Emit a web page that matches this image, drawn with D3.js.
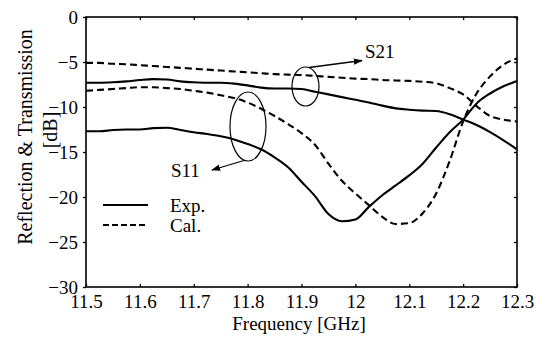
<!DOCTYPE html>
<html><head><meta charset="utf-8">
<script src="https://cdn.jsdelivr.net/npm/d3@7"></script>
<style>body{margin:0;background:#fff}svg{display:block}</style>
</head><body><svg id="c" width="535" height="337"></svg>
<script>
const freq = [11.5,11.525,11.55,11.575,11.6,11.625,11.65,11.675,11.7,11.725,11.75,11.775,11.8,11.825,11.85,11.875,11.9,11.925,11.95,11.975,12.0,12.025,12.05,12.075,12.1,12.125,12.15,12.175,12.2,12.225,12.25,12.275,12.3];
const expS21 = [-7.3,-7.3,-7.25,-7.15,-7.0,-6.9,-6.95,-7.15,-7.25,-7.3,-7.3,-7.4,-7.6,-7.85,-7.95,-7.95,-8.0,-8.3,-8.6,-8.9,-9.2,-9.5,-9.85,-10.15,-10.3,-10.4,-10.45,-10.8,-11.4,-12.0,-12.8,-13.7,-14.7];
const calS21 = [-5.1,-5.1,-5.2,-5.25,-5.35,-5.45,-5.55,-5.65,-5.75,-5.85,-5.95,-6.05,-6.15,-6.25,-6.35,-6.4,-6.45,-6.55,-6.65,-6.75,-6.85,-6.9,-7.0,-7.05,-7.1,-7.2,-7.35,-7.9,-8.6,-9.9,-11.0,-11.4,-11.6];
const expS11 = [-12.7,-12.7,-12.55,-12.5,-12.5,-12.35,-12.3,-12.55,-12.8,-13.0,-13.25,-13.6,-14.1,-14.7,-15.6,-16.7,-18.3,-19.9,-21.9,-22.7,-22.5,-21.1,-19.8,-18.7,-17.6,-16.3,-14.5,-12.8,-11.4,-9.6,-8.5,-7.7,-7.1];
const calS11 = [-8.2,-8.1,-8.0,-7.9,-7.8,-7.8,-7.9,-8.0,-8.2,-8.4,-8.7,-9.0,-9.5,-10.2,-11.0,-11.9,-12.9,-14.2,-16.3,-18.2,-19.6,-20.9,-22.2,-23.0,-22.9,-21.8,-19.6,-16.0,-11.6,-8.5,-6.6,-5.3,-4.6];
const xTicks = [11.5,11.6,11.7,11.8,11.9,12.0,12.1,12.2,12.3];
const xTickLabels = ["11.5","11.6","11.7","11.8","11.9","12","12.1","12.2","12.3"];
const yTicks = [0,-5,-10,-15,-20,-25,-30];
const legendLabels = ["Exp.","Cal."];

const FONT = "'Liberation Serif', Tinos, 'Times New Roman', Times, 'Nimbus Roman', 'DejaVu Serif', serif";
const svg = d3.select("#c");
const L=86,R=517,T=17,B=287;
const x = d3.scaleLinear().domain([11.5,12.3]).range([L,R]);
const y = d3.scaleLinear().domain([-30,0]).range([B,T]);

svg.append("rect").attr("x",L).attr("y",T).attr("width",R-L).attr("height",B-T)
  .attr("fill","none").attr("stroke","#000").attr("stroke-width",1.6);

const xb = svg.append("g").attr("transform",`translate(0,${B})`)
  .call(d3.axisBottom(x).tickValues(xTicks).tickSizeInner(-3).tickSizeOuter(0).tickPadding(9)
  .tickFormat((d,i)=>xTickLabels[i]));
xb.select(".domain").remove();
xb.selectAll("line").attr("stroke","#000").attr("stroke-width",1.3);
xb.selectAll("text").style("font-size","19px").style("font-family",FONT).attr("fill","#000").attr("dy","0.62em");
const xt = svg.append("g").attr("transform",`translate(0,${T})`)
  .call(d3.axisTop(x).tickValues(xTicks).tickSizeInner(-3).tickSizeOuter(0).tickFormat(""));
xt.select(".domain").remove(); xt.selectAll("line").attr("stroke","#000").attr("stroke-width",1.3);

const yl = svg.append("g").attr("transform",`translate(${L},0)`)
  .call(d3.axisLeft(y).tickValues(yTicks).tickSizeInner(3).tickSizeOuter(0).tickPadding(5)
  .tickFormat(d3.format("d")));
yl.select(".domain").remove();
yl.selectAll("line").attr("stroke","#000").attr("stroke-width",1.3);
yl.selectAll("text").style("font-size","19px").style("font-family",FONT).attr("fill","#000");
const yr = svg.append("g").attr("transform",`translate(${R},0)`)
  .call(d3.axisRight(y).tickValues(yTicks).tickSizeInner(-3).tickSizeOuter(0).tickFormat(""));
yr.select(".domain").remove(); yr.selectAll("line").attr("stroke","#000").attr("stroke-width",1.3);

function txt(sel){ return sel.style("font-family",FONT).attr("fill","#000"); }
txt(svg.append("text")).attr("x",299).attr("y",330).attr("text-anchor","middle")
  .style("font-size","19px").text("Frequency [GHz]");
txt(svg.append("text")).attr("transform","translate(32,137) rotate(-90)").attr("text-anchor","middle")
  .style("font-size","20px").text("Reflection & Transmission");
txt(svg.append("text")).attr("transform","translate(57,130) rotate(-90)").attr("text-anchor","middle")
  .style("font-size","20px").text("[dB]");

const line = d3.line().x((d,i)=>x(freq[i])).y(d=>y(d)).curve(d3.curveMonotoneX);
const series = [
  {v:expS21, dash:null},{v:expS11, dash:null},
  {v:calS21, dash:"7,4"},{v:calS11, dash:"7,4"}
];
svg.append("g").selectAll("path").data(series).join("path")
  .attr("d",d=>line(d.v)).attr("fill","none").attr("stroke","#000").attr("stroke-width",2.1)
  .attr("stroke-dasharray",d=>d.dash);

const defs = svg.append("defs");
defs.append("marker").attr("id","ah").attr("viewBox","0 0 10 10").attr("refX",9).attr("refY",5)
  .attr("markerWidth",7).attr("markerHeight",7).attr("orient","auto")
  .append("path").attr("d","M0,1.5 L10,5 L0,8.5 Z").attr("fill","#000");
svg.append("ellipse").attr("cx",305.5).attr("cy",86.5).attr("rx",13.5).attr("ry",19.5)
  .attr("fill","none").attr("stroke","#000").attr("stroke-width",1.2);
svg.append("ellipse").attr("cx",248).attr("cy",126.5).attr("rx",18).attr("ry",34.5)
  .attr("fill","none").attr("stroke","#000").attr("stroke-width",1.2);
svg.append("line").attr("x1",309).attr("y1",67.5).attr("x2",362).attr("y2",60.5)
  .attr("stroke","#000").attr("stroke-width",1.3).attr("marker-end","url(#ah)");
svg.append("line").attr("x1",244).attr("y1",160.5).attr("x2",212).attr("y2",170)
  .attr("stroke","#000").attr("stroke-width",1.3).attr("marker-end","url(#ah)");
txt(svg.append("text")).attr("x",365).attr("y",58).style("font-size","19px").text("S21");
txt(svg.append("text")).attr("x",171).attr("y",177).style("font-size","19px").text("S11");

const leg = svg.append("g");
legendLabels.forEach((lab,i)=>{
  const yy = 205 + i*20;
  leg.append("line").attr("x1",103).attr("x2",148).attr("y1",yy).attr("y2",yy)
    .attr("stroke","#000").attr("stroke-width",2.1).attr("stroke-dasharray",i?"6,3":null);
  txt(leg.append("text")).attr("x",170).attr("y",yy+7).style("font-size","19px").text(lab);
});
</script></body></html>
